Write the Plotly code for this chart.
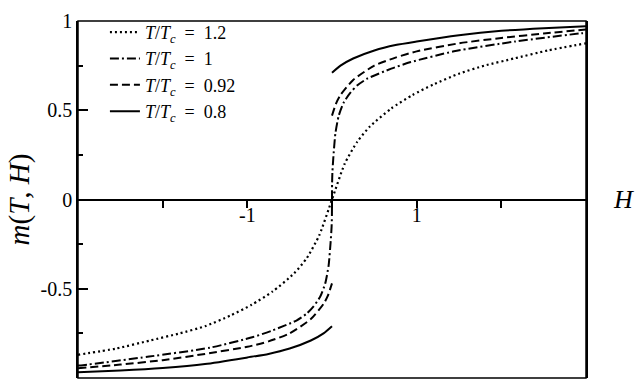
import plotly.graph_objects as go

# ---- data ----
# T/Tc = 1.2 (dotted), continuous through the origin
H_t12 = [-3, -2.55, -2.15, -1.8, -1.5, -1.2, -0.95, -0.7, -0.45, -0.3, -0.15, 0,
         0.15, 0.3, 0.45, 0.7, 0.95, 1.2, 1.5, 1.8, 2.15, 2.55, 3]
m_t12 = [-0.87, -0.835, -0.79, -0.75, -0.71, -0.65, -0.59, -0.515, -0.415, -0.33, -0.2, 0,
         0.2, 0.325, 0.41, 0.51, 0.585, 0.645, 0.705, 0.75, 0.79, 0.835, 0.875]

# T/Tc = 1 (dash-dot), continuous, vertical tangent at H = 0
H_t10 = [-3, -2.94, -2.16, -1.44, -0.93, -0.7, -0.42, -0.3, -0.22, -0.14, -0.08, -0.04, -0.015, -0.005, -0.001, 0,
         0.001, 0.005, 0.015, 0.04, 0.08, 0.14, 0.22, 0.3, 0.42, 0.7, 0.93, 1.44, 2.16, 2.94, 3]
m_t10 = [-0.93, -0.928, -0.88, -0.83, -0.77, -0.733, -0.678, -0.64, -0.6, -0.545, -0.47, -0.37, -0.23, -0.155, -0.09, 0,
         0.09, 0.155, 0.23, 0.37, 0.47, 0.545, 0.6, 0.64, 0.678, 0.733, 0.77, 0.83, 0.885, 0.931, 0.933]

# T/Tc = 0.92 (dashed), jump at H = 0
H_t092 = [-3, -2.5, -2, -1.5, -1, -0.75, -0.5, -0.25, -0.1, -0.05, 0, None,
          0, 0.05, 0.1, 0.25, 0.5, 0.75, 1, 1.5, 2, 2.5, 3]
m_t092 = [-0.945, -0.925, -0.9, -0.865, -0.825, -0.795, -0.75, -0.67, -0.585, -0.54, -0.47, None,
          0.47, 0.54, 0.585, 0.67, 0.75, 0.795, 0.83, 0.875, 0.905, 0.93, 0.952]

# T/Tc = 0.8 (solid), jump at H = 0
H_t08 = [-3, -2.5, -2, -1.5, -1, -0.75, -0.5, -0.25, -0.1, 0, None,
         0, 0.1, 0.25, 0.5, 0.75, 1, 1.5, 2, 2.5, 3]
m_t08 = [-0.968, -0.958, -0.944, -0.922, -0.885, -0.865, -0.835, -0.79, -0.75, -0.71, None,
         0.71, 0.75, 0.79, 0.835, 0.865, 0.885, 0.92, 0.945, 0.96, 0.97]

labels = ["1.2", "1", "0.92", "0.8"]
x_tickvals = [-2, -1, 0, 1, 2]
x_ticktext = ["", "-1", "", "1", ""]
y_tickvals = [-1, -0.5, 0, 0.5, 1]
y_ticktext = ["-1", "-0.5", "0", "0.5", "1"]
y_minor = [-0.75, -0.25, 0.25, 0.75]

SERIF = "Liberation Serif"

series = [
    (H_t12, m_t12, "2px,3px", 2.2),
    (H_t10, m_t10, "9px,3px,2px,3px", 2.0),
    (H_t092, m_t092, "8px,4px", 2.0),
    (H_t08, m_t08, "solid", 2.0),
]

fig = go.Figure()
for i, ((hx, my, dash, w), lab) in enumerate(zip(series, labels)):
    fig.add_trace(go.Scatter(
        x=hx, y=my, mode="lines",
        line=dict(color="black", width=w, dash=dash, shape="spline", smoothing=0.6),
        connectgaps=False,
        legendgroup="g%d" % i,
        name="<i>T</i>/<i>T</i><sub><i>c</i></sub>&nbsp;&nbsp;=&nbsp;&nbsp;" + lab,
    ))

fig.update_layout(
    width=638, height=388,
    margin=dict(l=78, r=52, t=17, b=10),
    paper_bgcolor="white", plot_bgcolor="white",
    font=dict(family=SERIF, color="black", size=20),
    showlegend=True,
    legend=dict(x=0.053, y=1.02, xanchor="left", yanchor="top",
                bgcolor="rgba(0,0,0,0)", borderwidth=0,
                font=dict(family=SERIF, size=18, color="black"),
                tracegroupgap=0),
    xaxis=dict(range=[-3, 3], showgrid=False, zeroline=False,
               showline=True, linecolor="black", linewidth=1.5,
               anchor="free", position=0.5,
               ticks="outside", ticklen=8, tickwidth=1.5, tickcolor="black",
               ticklabelstandoff=-10,
               tickvals=x_tickvals, ticktext=x_ticktext,
               tickfont=dict(family=SERIF, size=20, color="black")),
    yaxis=dict(range=[-1, 1], showgrid=False, zeroline=False,
               showline=True, linecolor="black", linewidth=1.5, mirror=True,
               ticks="inside", ticklen=10, tickwidth=1.5, tickcolor="black",
               tickvals=y_tickvals, ticktext=y_ticktext,
               minor=dict(tickvals=y_minor, ticks="inside", ticklen=5,
                          tickwidth=1.5, tickcolor="black", showgrid=False),
               tickfont=dict(family=SERIF, size=20, color="black")),
    shapes=[dict(type="rect", xref="paper", yref="paper", x0=0, x1=1, y0=0, y1=1,
                 line=dict(color="black", width=1.5), layer="above")],
    annotations=[
        dict(text="<i>m</i>(<i>T</i>, <i>H</i>)", xref="paper", yref="paper",
             x=-0.1142, y=0.5, xanchor="center", yanchor="middle",
             textangle=-90, showarrow=False,
             font=dict(family=SERIF, size=29, color="black")),
        dict(text="<i>H</i>", xref="paper", yref="paper",
             x=1.073, y=0.5, xanchor="center", yanchor="middle", showarrow=False,
             font=dict(family=SERIF, size=26, color="black")),
    ],
)

fig.write_html("out.html")
